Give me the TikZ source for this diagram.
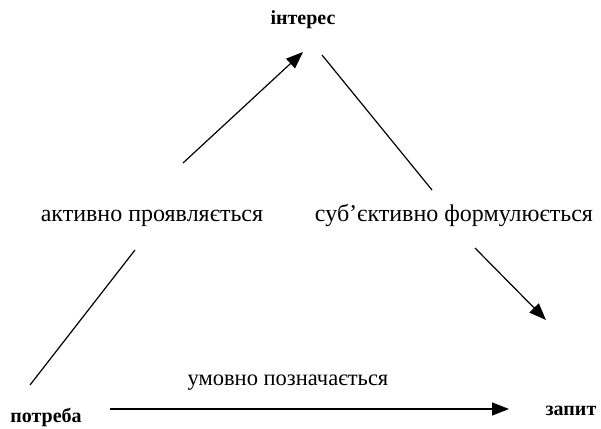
\documentclass[tikz,border=0pt]{standalone}
\usepackage{fontspec}
\setmainfont{Liberation Serif}
\usetikzlibrary{arrows.meta}
\begin{document}
\begin{tikzpicture}[x=1pt,y=-1pt,
  term/.style={font=\bfseries\fontsize{20}{24}\selectfont, inner sep=0pt},
  lbl/.style={font=\fontsize{24}{28}\selectfont, inner sep=0pt},
  conn/.style={line width=1.2pt},
  arr/.style={conn, -{Triangle[length=17pt,width=13pt]}}]
\useasboundingbox (0,0) rectangle (601,428);
\node[term] (interes) at (303,20) {інтерес};
\node[term] (potreba) at (46,417) {потреба};
\node[term] (zapyt) at (571,411) {запит};
\node[lbl] (l1) at (152,218) {активно проявляється};
\node[lbl] (l2) at (454,215) {суб'єктивно формулюється};
\node[lbl, font=\fontsize{22.5}{26}\selectfont] (l3) at (288,383) {умовно позначається};
\coordinate (a1) at (30,385);
\coordinate (a2) at (135,250);
\coordinate (a3) at (183,163);
\coordinate (a4) at (303,52);
\coordinate (b1) at (322,55);
\coordinate (b2) at (432,190);
\coordinate (b3) at (475,248);
\coordinate (b4) at (546,320);
\coordinate (c1) at (110,409);
\coordinate (c2) at (509,409);
\draw[conn] (a1) -- (a2);
\draw[arr] (a3) -- (a4);
\draw[conn] (b1) -- (b2);
\draw[arr] (b3) -- (b4);
\draw[arr] (c1) -- (c2);
\end{tikzpicture}
\end{document}
